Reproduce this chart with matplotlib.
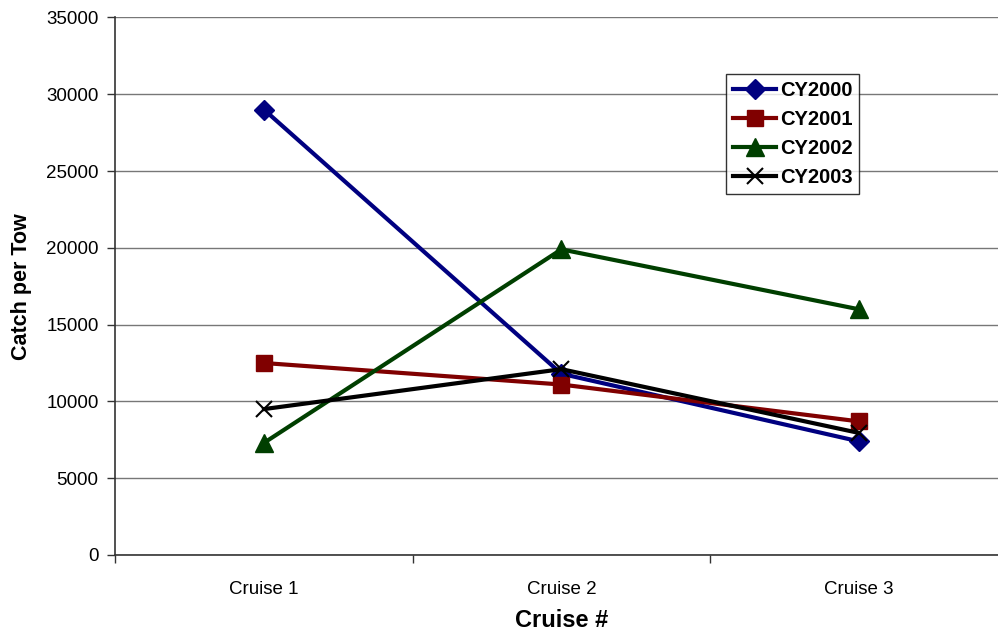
import matplotlib.pyplot as plt

plt.rcParams['font.family'] = ['Liberation Sans', 'DejaVu Sans']

# catch per tow by cruise
cruises = ['Cruise 1', 'Cruise 2', 'Cruise 3']
cy2000 = [29000, 11800, 7400]
cy2001 = [12500, 11100, 8700]
cy2002 = [7300, 19900, 16000]
cy2003 = [9500, 12100, 7950]

fig = plt.figure(figsize=(9.98, 6.35), dpi=100)
ax = fig.add_axes([0.1155, 0.126, 0.894, 0.8465])

x = range(len(cruises))
ax.plot(x, cy2000, color='#000080', lw=3, marker='D', ms=10, label='CY2000')
ax.plot(x, cy2001, color='#800000', lw=3, marker='s', ms=11, label='CY2001')
ax.plot(x, cy2002, color='#003f00', lw=3, marker='^', ms=13, label='CY2002')
ax.plot(x, cy2003, color='black', lw=3, marker='x', ms=12, mew=1.5, label='CY2003')

ax.set_xlim(-0.5, 2.5)
ax.set_ylim(0, 35000)
ax.set_yticks(range(0, 35001, 5000))
ax.set_xticks(list(x))
ax.set_xticklabels(cruises)
ax.set_xticks([-0.5, 0.5, 1.5, 2.5], minor=True)
ax.tick_params(axis='x', which='major', length=0, pad=19, labelsize=13.5)
ax.tick_params(axis='x', which='minor', length=6, width=1, color='#333333')
ax.tick_params(axis='y', length=6, width=1, color='#333333', labelsize=13.5, pad=6)

ax.yaxis.grid(True, color='#777777', lw=1)
ax.set_axisbelow(True)
for s in ['top', 'right']:
    ax.spines[s].set_visible(False)
for s in ['left', 'bottom']:
    ax.spines[s].set_color('#333333')
    ax.spines[s].set_linewidth(1.2)

ax.set_xlabel('Cruise #', fontsize=17, fontweight='bold', labelpad=8)
ax.set_ylabel('Catch per Tow', fontsize=15.5, fontweight='bold', labelpad=10)

leg = ax.legend(loc='upper left', bbox_to_anchor=(0.685, 0.895),
                prop={'weight': 'bold', 'size': 14.5}, frameon=True, fancybox=False,
                handlelength=2.1, handletextpad=0.2, labelspacing=0.5,
                borderpad=0.35, borderaxespad=0)
leg.get_frame().set_edgecolor('black')
leg.get_frame().set_linewidth(1)

plt.savefig('out.png', dpi=100)
